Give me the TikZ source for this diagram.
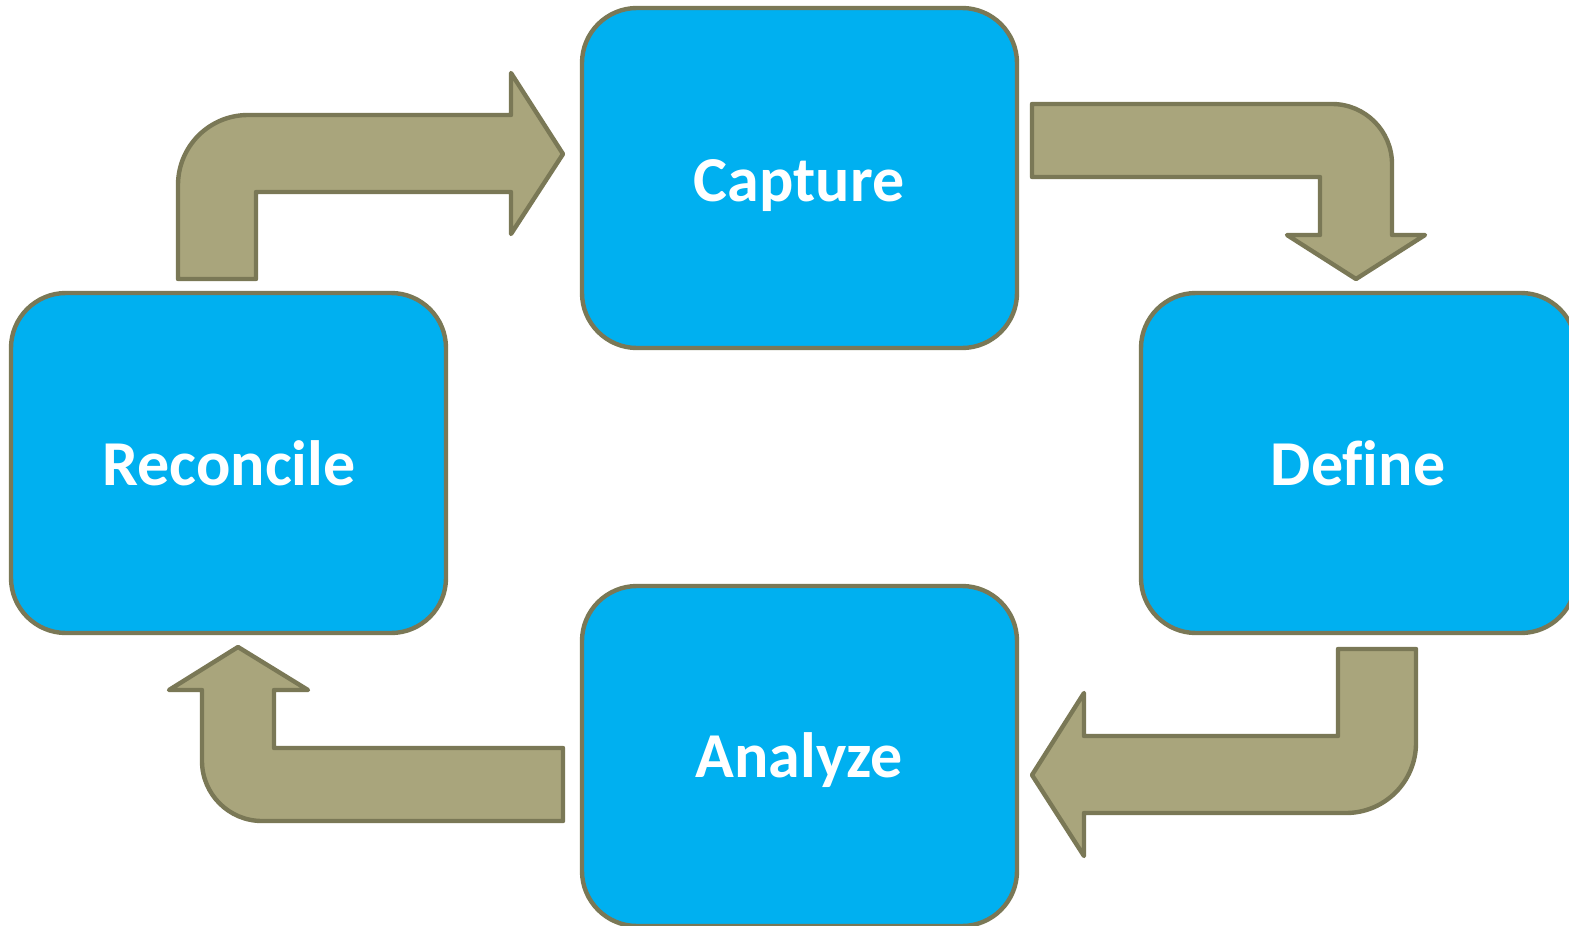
\documentclass[tikz,border=0pt]{standalone}
\usepackage{fontspec}
\setmainfont[Ligatures=NoCommon]{Carlito}
\definecolor{boxblue}{HTML}{00B0F0}
\definecolor{edgeolive}{HTML}{7A7856}
\definecolor{arrowtan}{HTML}{A9A57C}
\tikzset{
  stagebox/.style={draw=edgeolive, fill=boxblue, line width=2.2pt, rounded corners=27.5pt,
    minimum width=217.5pt, minimum height=170pt, inner sep=0pt, outer sep=0pt},
  stagelabel/.style={text=white, font=\fontsize{32}{38}\selectfont\bfseries, anchor=base, inner sep=0pt},
  blockarrow/.style={draw=edgeolive, fill=arrowtan, line width=2.2pt, line join=round}
}
\begin{document}
\begin{tikzpicture}[x=0.5pt,y=-0.5pt]
\useasboundingbox (0,0) rectangle (1569,926);
\clip (0,0) rectangle (1569,926);
\fill[white] (0,0) rectangle (1569,926);
% boxes
\node[stagebox] (capture) at (799.5,178) {};
\node[stagebox] (reconcile) at (228.5,463) {};
\node[stagebox] (define) at (1358.5,463) {};
\node[stagebox] (analyze) at (799.5,756) {};
% labels
\node[stagelabel] (tcapture) at (799,201) {Capture};
\node[stagelabel] (treconcile) at (229,485) {Reconcile};
\node[stagelabel] (tdefine) at (1358,485) {Define};
\node[stagelabel] (tanalyze) at (799,777) {Analyze};
% block arrows
\draw[blockarrow] (178,279) -- (178,185) .. controls (178,146.3) and (209.3,115) .. (248,115)
  -- (511,115) -- (511,73) -- (563,154) -- (511,234) -- (511,192) -- (256,192) -- (256,279) -- cycle;
\draw[blockarrow] (1032,104) -- (1332,104) .. controls (1365.1,104) and (1392,130.9) .. (1392,164)
  -- (1392,235) -- (1425,235) -- (1356,279) -- (1287,235) -- (1320,235) -- (1320,177) -- (1032,177) -- cycle;
\draw[blockarrow] (1338,649) -- (1416,649) -- (1416,743) .. controls (1416,781.7) and (1384.7,813) .. (1346,813)
  -- (1084,813) -- (1084,856) -- (1032,775) -- (1084,693) -- (1084,736) -- (1338,736) -- cycle;
\draw[blockarrow] (563,748) -- (563,821) -- (262,821) .. controls (228.9,821) and (202,794.1) .. (202,761)
  -- (202,690) -- (169,690) -- (238,647) -- (308,690) -- (274,690) -- (274,748) -- cycle;
\end{tikzpicture}
\end{document}
